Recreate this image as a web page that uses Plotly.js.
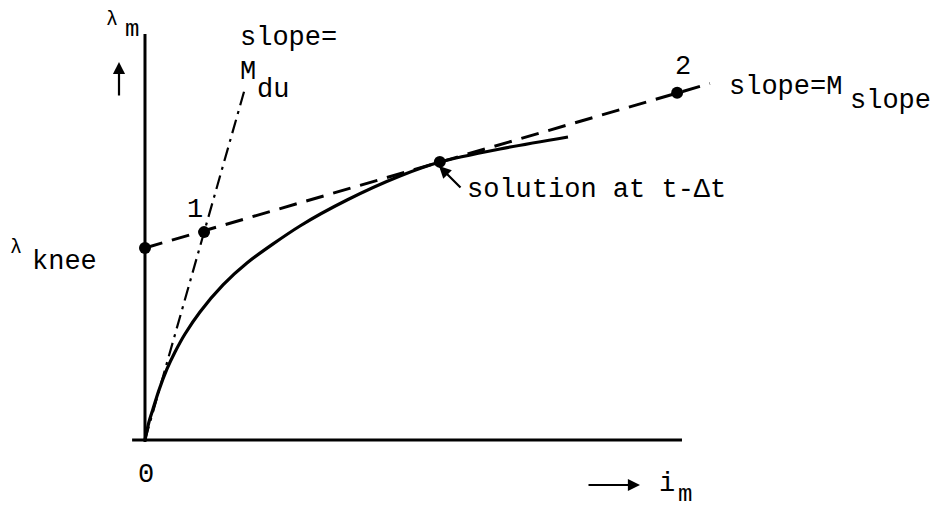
<!DOCTYPE html>
<html>
<head>
<meta charset="utf-8">
<script src="https://cdn.plot.ly/plotly-3.0.1.min.js"></script>
<style>
  html, body { margin: 0; padding: 0; background: #fff; }
  #chart { width: 937px; height: 510px; }
</style>
</head>
<body>
<div id="chart"></div>
<script>
// Magnetizing curve lambda_m(i_m) with the knee/slope linearisation.
const curveI      = [0, 0.074, 0.149, 0.261, 0.410, 0.559, 0.745, 1.024, 1.453, 1.899, 2.886, 3.762, 4.749, 5.493, 6.611, 7.877];
const curveLambda = [0, 0.443, 0.764, 1.232, 1.749, 2.167, 2.611, 3.153, 3.818, 4.360, 5.271, 5.911, 6.502, 6.847, 7.167, 7.463];

// Linearised line through lambda_knee with slope M_slope
const slopeLineI      = [0, 10.52];
const slopeLineLambda = [4.73, 8.78];

// Line from the origin with slope M_du
const duLineI      = [0, 1.86];
const duLineLambda = [0, 8.65];

// Marked points: lambda_knee, point 1, solution at t-dt, point 2
const pointI      = [0, 1.10, 5.49, 9.91];
const pointLambda = [4.73, 5.12, 6.85, 8.55];

// Axis extents
const axisI      = [-0.24, 10.0];
const axisLambda = [-0.05, 10.0];

const W = 937, H = 510;
const MONO = 'Liberation Mono, Courier New, monospace';

function label(text, px, py, opts) {
  opts = opts || {};
  return {
    text: text, showarrow: false,
    xref: 'paper', yref: 'paper',
    x: px / W, y: 1 - py / H,
    xanchor: opts.xanchor || 'left', yanchor: opts.yanchor || 'middle',
    font: { family: MONO, size: opts.size || 27, color: '#000' }
  };
}
function arrow(hx, hy, ax, ay) {
  return {
    text: '', showarrow: true,
    xref: 'paper', yref: 'paper',
    x: hx / W, y: 1 - hy / H,
    ax: ax, ay: ay,
    arrowhead: 2, arrowsize: 1.1, arrowwidth: 2.2, arrowcolor: '#000', standoff: 0
  };
}

const traces = [
  { x: [0, 0], y: axisLambda, mode: 'lines', line: { color: '#000', width: 3 }, hoverinfo: 'skip' },
  { x: axisI, y: [0, 0], mode: 'lines', line: { color: '#000', width: 3 }, hoverinfo: 'skip' },
  { x: curveI, y: curveLambda, mode: 'lines',
    line: { color: '#000', width: 3.2, shape: 'spline', smoothing: 0.8 }, hoverinfo: 'skip' },
  { x: slopeLineI, y: slopeLineLambda, mode: 'lines',
    line: { color: '#000', width: 3, dash: '18px,10px' }, hoverinfo: 'skip' },
  { x: duLineI, y: duLineLambda, mode: 'lines',
    line: { color: '#000', width: 2.2, dash: '14px,6px,3px,6px' }, hoverinfo: 'skip' },
  { x: pointI, y: pointLambda, mode: 'markers',
    marker: { color: '#000', size: 12 }, hoverinfo: 'skip' }
];

const layout = {
  width: W, height: H,
  margin: { l: 0, r: 0, t: 0, b: 0 },
  paper_bgcolor: '#fff', plot_bgcolor: '#fff',
  showlegend: false,
  xaxis: { range: [-2.700, 14.749], visible: false, fixedrange: true },
  yaxis: { range: [-1.724, 10.837], visible: false, fixedrange: true },
  annotations: [
    label('\u03bb', 112, 20, { xanchor: 'center', size: 20 }),
    label('m', 123, 29, { size: 24 }),
    label('\u03bb', 16, 247, { xanchor: 'center', size: 20 }),
    label('knee', 30, 262),
    label('slope=', 238, 38),
    label('M', 238, 72),
    label('du', 255, 90),
    label('slope=M', 727, 87),
    label('slope', 848, 101),
    label('solution at t-\u0394t', 465, 190),
    label('1', 195, 210, { xanchor: 'center' }),
    label('2', 683, 67, { xanchor: 'center' }),
    label('0', 146, 475, { xanchor: 'center' }),
    label('i', 667, 484, { xanchor: 'center' }),
    label('m', 676, 510, { size: 24, yanchor: 'bottom' }),
    arrow(119, 62, 0, 35),
    arrow(640, 485, -53, 0),
    arrow(439, 166, 23, 23)
  ]
};

Plotly.newPlot('chart', traces, layout, { staticPlot: true, displayModeBar: false });
</script>
</body>
</html>
